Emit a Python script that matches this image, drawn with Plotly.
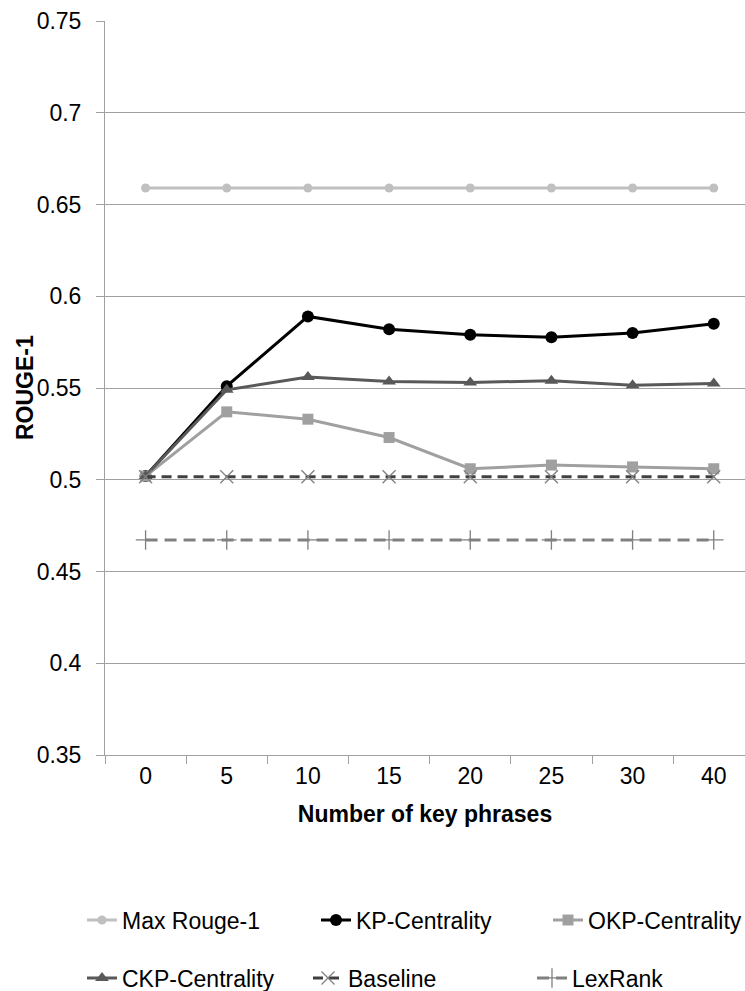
import plotly.graph_objects as go

categories = ["0", "5", "10", "15", "20", "25", "30", "40"]
max_rouge = [0.659, 0.659, 0.659, 0.659, 0.659, 0.659, 0.659, 0.659]
kp_centrality = [0.502, 0.551, 0.589, 0.582, 0.579, 0.5776, 0.580, 0.585]
okp_centrality = [0.502, 0.537, 0.533, 0.523, 0.506, 0.508, 0.507, 0.506]
ckp_centrality = [0.502, 0.549, 0.556, 0.5535, 0.553, 0.554, 0.5515, 0.5525]
baseline = [0.5016] * 8
lexrank = [0.4672] * 8

W, H = 745, 991
FONT = "Liberation Sans, Arial, sans-serif"
FS = 23

fig = go.Figure()

def add(name, y, color, symbol, msize, legend, mcolor=None, dash="solid", mline=0):
    fig.add_trace(go.Scatter(
        x=categories, y=y, name=name, mode="lines+markers",
        line=dict(color=color, width=3, dash=dash),
        marker=dict(symbol=symbol, size=msize, color=mcolor or color,
                    line=dict(width=mline, color=mcolor or color)),
        legend=legend, showlegend=True,
    ))

add("Max Rouge-1", max_rouge, "#c0c0c0", "circle", 9, "legend")
add("KP-Centrality", kp_centrality, "#000000", "circle", 12, "legend2")
add("OKP-Centrality", okp_centrality, "#a0a0a0", "square", 11, "legend3")
add("CKP-Centrality", ckp_centrality, "#595959", "triangle-up", 12, "legend4")
add("Baseline", baseline, "#404040", "x-thin-open", 13, "legend5",
    mcolor="#808080", dash="10px,6px", mline=1.3)
add("LexRank", lexrank, "#808080", "cross-thin-open", 14, "legend6",
    mcolor="#808080", dash="12px,7px", mline=1.3)

def leg(xpx, ypx):
    return dict(x=xpx / W, y=1 - ypx / H, xref="container", yref="container",
                xanchor="left", yanchor="middle", orientation="h",
                bgcolor="rgba(0,0,0,0)", font=dict(family=FONT, size=FS, color="#000"),
                itemwidth=30, tracegroupgap=0)

ROW1, ROW2 = 920, 978
L = 105
fig.update_layout(
    width=W, height=H, showlegend=True,
    margin=dict(l=L, r=0, t=21, b=236),
    paper_bgcolor="white", plot_bgcolor="white",
    font=dict(family=FONT, size=FS, color="#000"),
    legend=leg(82, ROW1),
    legend2=leg(316, ROW1),
    legend3=leg(548, ROW1),
    legend4=leg(82, ROW2),
    legend5=leg(308, ROW2),
    legend6=leg(532, ROW2),
    xaxis=dict(
        type="category", range=[-0.5, 7.385], automargin=False,
        showline=True, linecolor="#a0a0a0", linewidth=1,
        ticks="outside", tickson="boundaries", ticklen=8, tickcolor="#a0a0a0",
        showgrid=False, zeroline=False,
        tickfont=dict(family=FONT, size=FS),
        title=dict(text="<b>Number of key phrases</b>", font=dict(family=FONT, size=FS), standoff=18),
    ),
    yaxis=dict(
        range=[0.35, 0.75], dtick=0.05, tick0=0.35, automargin=False,
        showline=True, linecolor="#a0a0a0", linewidth=1,
        ticks="outside", ticklen=8, tickcolor="#a0a0a0", ticklabelstandoff=10,
        showgrid=True, gridcolor="#a0a0a0", gridwidth=1, zeroline=False,
        tickfont=dict(family=FONT, size=FS),
    ),
    annotations=[dict(
        text="<b>ROUGE-1</b>", x=0, y=0.5, xref="paper", yref="paper",
        xanchor="center", yanchor="middle", xshift=25 - L, textangle=-90,
        showarrow=False, font=dict(family=FONT, size=FS, color="#000"),
    )],
)

fig.write_html("out.html", config={"displayModeBar": False},
               post_script="document.body.style.margin='0';")
